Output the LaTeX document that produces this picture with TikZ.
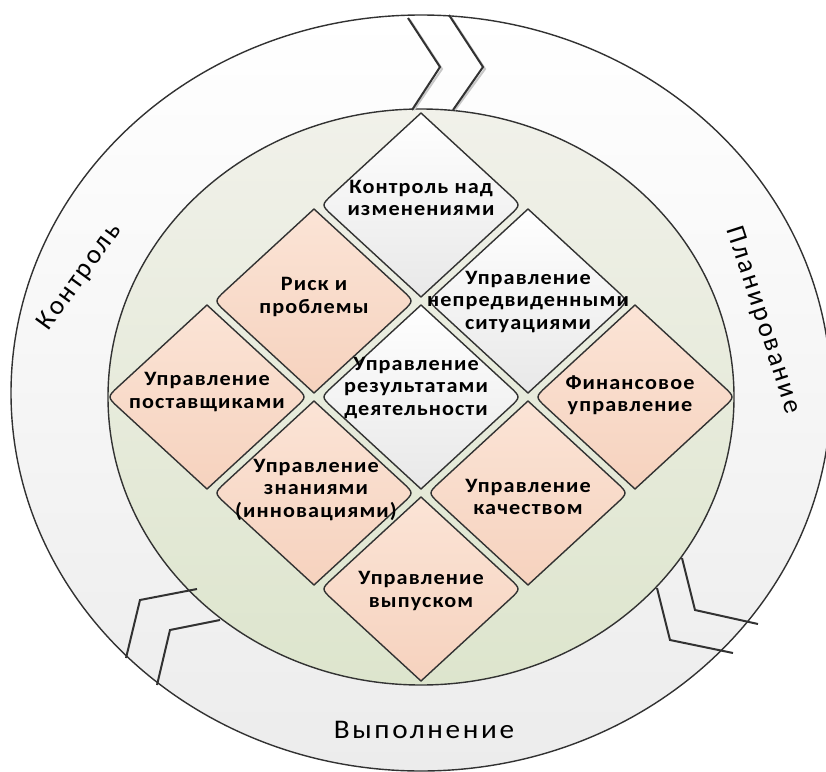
\documentclass[tikz,border=0pt]{standalone}
\usepackage{fontspec}
\setmainfont{Carlito}
\newfontfamily\diafont{Carlito}[LetterSpace=5]
\newfontfamily\ringfont{Carlito}[LetterSpace=9]
\usetikzlibrary{calc}
\definecolor{edge}{RGB}{50,50,50}
\definecolor{ringtop}{RGB}{255,255,255}
\definecolor{ringbot}{RGB}{236,236,236}
\definecolor{greentop}{RGB}{241,241,234}
\definecolor{greenbot}{RGB}{221,229,205}
\definecolor{peachtop}{RGB}{251,228,214}
\definecolor{peachbot}{RGB}{246,210,190}
\definecolor{whitetop}{RGB}{255,255,255}
\definecolor{whitebot}{RGB}{232,232,232}
\definecolor{shadowc}{RGB}{200,200,200}
\tikzset{
  peachdia/.style={top color=peachtop, bottom color=peachbot, draw=edge, line width=1.4bp, line join=round},
  whitedia/.style={top color=whitetop, bottom color=whitebot, draw=edge, line width=1.4bp, line join=round},
  dtext/.style={align=center, font=\diafont\bfseries\fontsize{20.5}{22.5}\selectfont, xscale=1.087, inner sep=0pt},
  rtext/.style={font=\ringfont\fontsize{27}{30}\selectfont, inner sep=0pt},
  chev/.style={draw=edge, line width=2bp, line join=miter},
  chevshadow/.style={draw=shadowc, line width=2bp, line join=miter},
}
\newcommand\rdiam[3]{%
  \path[#3] ({#1},{#2-92}) -- ({#1+88},{#2-11}) .. controls ({#1+100},{#2}) .. ({#1+88},{#2+11})
    -- ({#1},{#2+92}) -- ({#1-88},{#2+11}) .. controls ({#1-100},{#2}) .. ({#1-88},{#2-11}) -- cycle;}
\begin{document}
\begin{tikzpicture}[x=1bp,y=-1bp]
\useasboundingbox (0,0) rectangle (826,772);
\begin{scope}
\clip (0,0) rectangle (826,772);
% outer ring
\shade[top color=ringtop, bottom color=ringbot] (421,393) ellipse [x radius=410, y radius=378];
\draw[edge, line width=1.4bp] (421,393) ellipse [x radius=410, y radius=378];
% inner disc
\shade[top color=greentop, bottom color=greenbot] (421,397) ellipse [x radius=313, y radius=288];
\draw[edge, line width=1.4bp] (421,397) ellipse [x radius=313, y radius=288];
\end{scope}
% chevron shadows
\draw[chevshadow] (410,20) -- (442,69) -- (414,110);
\draw[chevshadow] (451,17) -- (485,69) -- (455,110);
% chevrons
\draw[chev] (408,18) -- (440,67) -- (412,110);
\draw[chev] (449,15) -- (483,67) -- (453,110);
\draw[chev] (197,589) -- (140,600) -- (126,658);
\draw[chev] (220,620) -- (170,630) -- (157,685);
\draw[chev] (682,558) -- (695,610) -- (758,624);
\draw[chev] (657,588) -- (670,640) -- (733,653);
% diamonds
\rdiam{421}{205}{whitedia}
\rdiam{314}{301}{peachdia}
\rdiam{528}{301}{whitedia}
\rdiam{207}{397}{peachdia}
\rdiam{421}{397}{whitedia}
\rdiam{635}{397}{peachdia}
\rdiam{314}{493}{peachdia}
\rdiam{528}{493}{peachdia}
\rdiam{421}{589}{peachdia}
% diamond texts
\node[dtext] (ctrl) at (421,198) {Контроль над\\изменениями};
\node[dtext] (risk) at (314,297) {Риск и\\проблемы};
\node[dtext] (unfore) at (528,302) {Управление\\непредвиденными\\ситуациями};
\node[dtext] (suppl) at (207,392) {Управление\\поставщиками};
\node[dtext] (perf) at (416,388) {Управление\\результатами\\деятельности};
\node[dtext] (fin) at (630,395) {Финансовое\\управление};
\node[dtext] (know) at (316,490) {Управление\\знаниями\\(инновациями)};
\node[dtext] (qual) at (528,497) {Управление\\качеством};
\node[dtext] (rel) at (421,591) {Управление\\выпуском};
% ring labels
\node[rtext, rotate=54] (control) at (80,277) {Контроль};
\node[rtext, rotate=-72] (plan) at (763,320) {Планирование};
\node[rtext, xscale=1.087] (exec) at (424,730) {Выполнение};
\end{tikzpicture}
\end{document}
